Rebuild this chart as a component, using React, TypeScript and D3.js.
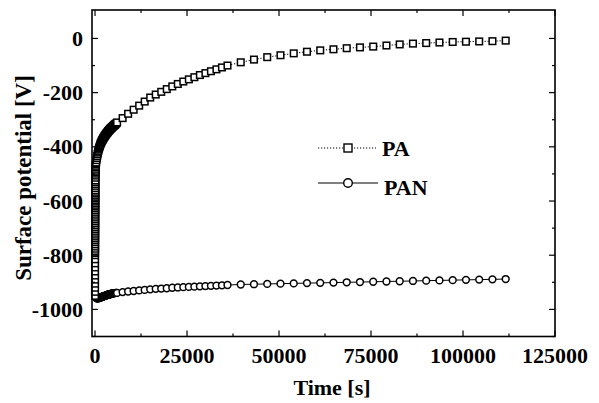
import React from "react";
import * as d3 from "d3";

// ---- data ----
const paTime = [
  0, 1, 2, 3, 4, 5, 6, 7, 8, 9, 10,
  12, 14, 16, 18, 20, 22, 24, 26, 28, 30, 32, 34, 36, 38, 40, 42, 44, 46, 48, 50,
  52, 54, 56, 58, 60, 62, 64, 66, 68, 70, 72, 74, 76, 78, 80, 84, 88, 92, 96, 100,
  110, 120, 130, 140, 150, 170, 190, 210, 240, 270, 300, 400, 500, 600, 700, 800, 900,
  1000, 1100, 1200, 1300, 1400, 1500, 1600, 1700, 1800, 1900, 2000, 2100, 2200, 2300,
  2400, 2500, 2600, 2700, 2800, 2900, 3000, 3100, 3200, 3300, 3400, 3500, 3600, 3700,
  3800, 3900, 4000, 4100, 4200, 4300, 4400, 4500, 4600, 4700, 4800, 4900, 5000, 5100,
  5200, 5300, 5400, 5500, 5600, 5800, 6000,
  7500, 9000, 10500, 12000, 13500, 15000, 16500, 18000,
  19500, 21000, 22500, 24000, 25500, 27000, 28500, 30000, 31500, 33000, 34500, 36000,
  39600, 43200, 46800, 50400, 54000, 57600, 61200, 64800, 68400, 72000, 75600, 79200,
  82800, 86400, 90000, 93600, 97200, 100800, 104400, 108000, 111600,
];
const paValue = [
  -950, -935, -920, -905, -890, -875, -860, -845, -830, -815, -800,
  -792, -784, -776, -768, -760, -752, -745, -738, -731, -724, -717, -710, -703, -696, -689, -682, -675, -668, -661, -654,
  -647, -640, -633, -626, -620, -614, -608, -602, -596, -590, -584, -578, -572, -566, -560, -552, -544, -537, -530, -524,
  -514, -506, -499, -493, -488, -481, -475, -470, -464, -461, -458, -449, -441, -434, -427, -421, -415,
  -410, -405, -401, -397, -393, -389, -386, -383, -380, -377, -375, -372, -370, -368,
  -365, -363, -361, -359, -357, -355, -353, -351, -349, -348, -346, -344, -342, -341,
  -339, -338, -336, -335, -333, -332, -331, -329, -328, -327, -325, -324, -323, -322,
  -320, -319, -318, -317, -315, -313, -310,
  -294, -278, -263, -248, -233, -218, -207, -197,
  -187, -177, -168, -159, -151, -143, -135, -128, -121, -114, -107, -100,
  -88, -78, -69, -62, -55, -49, -44, -40, -36, -33, -30, -26,
  -22, -19, -17, -15, -13, -12, -11, -10, -8,
];
const panTime = [
  0, 100, 200, 300, 400, 500, 600, 700, 800, 900, 1000, 1100, 1200, 1300, 1400, 1500,
  1600, 1700, 1800, 1900, 2000, 2100, 2200, 2300, 2400, 2500, 2600, 2700, 2800, 2900,
  3000, 3100, 3200, 3300, 3400, 3500, 3600, 3700, 3800, 3900, 4000, 4100, 4200, 4300,
  4400, 4500, 4600, 4700, 4800, 4900, 5000, 5200, 5400, 5600, 5800, 6000,
  7500, 9000, 10500, 12000, 13500, 15000, 16500, 18000, 19500, 21000, 22500, 24000,
  25500, 27000, 28500, 30000, 31500, 33000, 34500, 36000,
  39600, 43200, 46800, 50400, 54000, 57600, 61200, 64800, 68400, 72000, 75600, 79200,
  82800, 86400, 90000, 93600, 97200, 100800, 104400, 108000, 111600,
];
const panValue = [
  -940, -950, -955, -957, -958, -959, -959, -959, -959, -958, -958, -958, -957, -957, -956, -956,
  -955, -955, -954, -954, -953, -953, -952, -952, -951, -951, -950, -950, -949, -949,
  -948, -948, -947, -947, -946, -946, -946, -945, -945, -944, -944, -944, -943, -943,
  -943, -942, -942, -942, -941, -941, -941, -940, -940, -939, -939, -939,
  -936, -934, -932, -930, -928, -926, -924, -923, -922, -920, -919, -918,
  -917, -916, -915, -914, -913, -912, -911, -910,
  -908, -907, -906, -905, -904, -903, -902, -901, -900, -899, -898, -897,
  -896, -895, -894, -893, -892, -891, -890, -889, -888,
];
const xTicks = [0, 25000, 50000, 75000, 100000, 125000];
const xMinor = [12500, 37500, 62500, 87500, 112500];
const yTicks = [-1000, -800, -600, -400, -200, 0];
const yMinor = [-1100, -900, -700, -500, -300, -100];
const seriesNames = ["PA", "PAN"];

const W = 599, H = 403;
const L = 92, R = 555, T = 10, B = 336.5;
const FONT = "'Liberation Serif', 'DejaVu Serif', serif";

export default function App() {
  const x = d3.scaleLinear().domain([-820, 125000]).range([L, R]);
  const y = d3.scaleLinear().domain([-1100, 105]).range([B, T]);
  const pa = paTime.map((t, i) => [t, paValue[i]] as [number, number]);
  const pan = panTime.map((t, i) => [t, panValue[i]] as [number, number]);
  const line = d3.line<[number, number]>().x(d => x(d[0])).y(d => y(d[1]));
  const sq = 6.6;
  const cr = 3.4;
  const major = 6, minor = 3;

  return (
    <svg width={W} height={H} style={{ position: "fixed", left: 0, top: 0, background: "#fff" }}
      fontFamily={FONT} fontWeight="bold">
      <rect x={0} y={0} width={W} height={H} fill="#fff" />
      {/* data lines */}
      <path d={line(pan) || ""} fill="none" stroke="#000" strokeWidth={1} />
      <path d={line(pa) || ""} fill="none" stroke="#000" strokeWidth={1} strokeDasharray="1.2,1.8" />
      {/* markers */}
      {pan.map((d, i) => (
        <circle key={"c" + i} cx={x(d[0])} cy={y(d[1])} r={cr} fill="#fff" stroke="#000" strokeWidth={1.5} />
      ))}
      {pa.map((d, i) => (
        <rect key={"s" + i} x={x(d[0]) - sq / 2} y={y(d[1]) - sq / 2} width={sq} height={sq}
          fill="#fff" stroke="#000" strokeWidth={1.5} />
      ))}
      {/* frame */}
      <rect x={L} y={T} width={R - L} height={B - T} fill="none" stroke="#000" strokeWidth={1.6} />
      {/* x ticks */}
      {xTicks.map(t => (
        <g key={"xt" + t}>
          <line x1={x(t)} x2={x(t)} y1={B} y2={B - major} stroke="#000" strokeWidth={1.2} />
          <line x1={x(t)} x2={x(t)} y1={T} y2={T + major} stroke="#000" strokeWidth={1.2} />
          <text x={x(t)} y={363} textAnchor="middle" fontSize={22}>{t}</text>
        </g>
      ))}
      {xMinor.map(t => (
        <g key={"xm" + t}>
          <line x1={x(t)} x2={x(t)} y1={B} y2={B - minor} stroke="#000" strokeWidth={1.2} />
          <line x1={x(t)} x2={x(t)} y1={T} y2={T + minor} stroke="#000" strokeWidth={1.2} />
        </g>
      ))}
      {/* y ticks */}
      {yTicks.map(v => (
        <g key={"yt" + v}>
          <line x1={L} x2={L + major} y1={y(v)} y2={y(v)} stroke="#000" strokeWidth={1.2} />
          <line x1={R} x2={R - major} y1={y(v)} y2={y(v)} stroke="#000" strokeWidth={1.2} />
          <text x={83} y={y(v) + 7.5} textAnchor="end" fontSize={22}>{v}</text>
        </g>
      ))}
      {yMinor.map(v => (
        <g key={"ym" + v}>
          <line x1={L} x2={L + minor} y1={y(v)} y2={y(v)} stroke="#000" strokeWidth={1.2} />
          <line x1={R} x2={R - minor} y1={y(v)} y2={y(v)} stroke="#000" strokeWidth={1.2} />
        </g>
      ))}
      {/* axis titles */}
      <text x={332} y={395} textAnchor="middle" fontSize={22}>Time [s]</text>
      <text transform="translate(31,178) rotate(-90)" textAnchor="middle" fontSize={23}>Surface potential [V]</text>
      {/* legend */}
      <line x1={318} x2={376} y1={148} y2={148} stroke="#000" strokeWidth={1} strokeDasharray="1.2,1.8" />
      <rect x={348 - 4} y={148 - 4} width={8} height={8} fill="#fff" stroke="#000" strokeWidth={1.4} />
      <text x={382} y={156} fontSize={22}>{seriesNames[0]}</text>
      <line x1={318} x2={378} y1={183} y2={183} stroke="#000" strokeWidth={1.1} />
      <circle cx={348} cy={183} r={4.3} fill="#fff" stroke="#000" strokeWidth={1.4} />
      <text x={384} y={195} fontSize={22}>{seriesNames[1]}</text>
    </svg>
  );
}
